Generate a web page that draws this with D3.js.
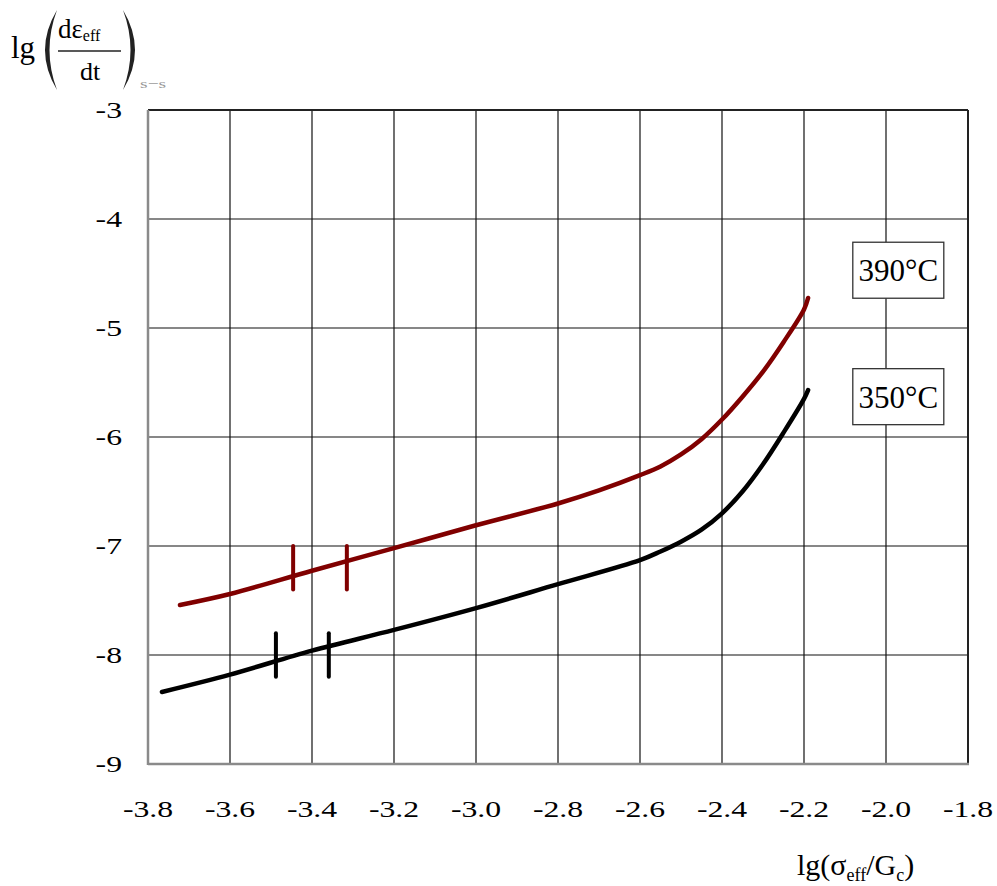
<!DOCTYPE html>
<html>
<head>
<meta charset="utf-8">
<script src="https://cdn.jsdelivr.net/npm/d3@7"></script>
<style>
  body { margin: 0; background: #fff; }
  text { font-family: "Liberation Serif", "Times New Roman", serif; fill: #000; }
</style>
</head>
<body>
<div id="chart"></div>
<script>
// data
var xTicks = [-3.8, -3.6, -3.4, -3.2, -3.0, -2.8, -2.6, -2.4, -2.2, -2.0, -1.8];
var xTickLabels = ["-3.8", "-3.6", "-3.4", "-3.2", "-3.0", "-2.8", "-2.6", "-2.4", "-2.2", "-2.0", "-1.8"];
var yTicks = [-9, -8, -7, -6, -5, -4, -3];
var yTickLabels = ["-9", "-8", "-7", "-6", "-5", "-4", "-3"];

var seriesNames = ["390°C", "350°C"];

var x390 = [-3.722, -3.6, -3.4, -3.2, -3.0, -2.8, -2.7, -2.6, -2.55, -2.5, -2.45, -2.4, -2.35, -2.3, -2.25, -2.2, -2.19];
var y390 = [-7.541, -7.44, -7.227, -7.02, -6.81, -6.61, -6.49, -6.35, -6.27, -6.16, -6.02, -5.84, -5.63, -5.40, -5.13, -4.83, -4.725];

var x350 = [-3.766, -3.6, -3.4, -3.2, -3.0, -2.8, -2.6, -2.55, -2.5, -2.45, -2.4, -2.35, -2.3, -2.25, -2.2, -2.19];
var y350 = [-8.339, -8.18, -7.96, -7.77, -7.57, -7.35, -7.13, -7.05, -6.96, -6.85, -6.70, -6.50, -6.25, -5.96, -5.65, -5.569];

// short vertical marks on the curves
var marks390 = [-3.446, -3.315];
var marks390Range = [-7.0, -7.4];
var marks350 = [-3.488, -3.359];
var marks350Range = [-7.8, -8.2];

var svgWidth = 997;
var svgHeight = 886;

var margin = {
    top: 110,
    right: 29,
    bottom: 122,
    left: 148
};

var width = svgWidth - margin.left - margin.right;
var height = svgHeight - margin.top - margin.bottom;

var svg = d3.select("#chart")
    .append("svg")
    .attr("width", svgWidth)
    .attr("height", svgHeight);

var chartGroup = svg.append("g")
    .attr("transform", `translate(${margin.left}, ${margin.top})`);

var xScale = d3.scaleLinear()
    .domain([-3.8, -1.8])
    .range([0, width]);

var yScale = d3.scaleLinear()
    .domain([-9, -3])
    .range([height, 0]);

// grid
chartGroup.selectAll(".vgrid")
    .data(xTicks)
    .enter()
    .append("line")
    .attr("x1", d => xScale(d))
    .attr("x2", d => xScale(d))
    .attr("y1", 0)
    .attr("y2", height)
    .attr("stroke", "#111")
    .attr("stroke-width", 1.2);

chartGroup.selectAll(".hgrid")
    .data(yTicks)
    .enter()
    .append("line")
    .attr("x1", 0)
    .attr("x2", width)
    .attr("y1", d => yScale(d))
    .attr("y2", d => yScale(d))
    .attr("stroke", "#111")
    .attr("stroke-width", 1.2);

// frame: top/right dark, left/bottom grey
chartGroup.append("line")
    .attr("x1", 0).attr("x2", width).attr("y1", 0).attr("y2", 0)
    .attr("stroke", "#222").attr("stroke-width", 2);
chartGroup.append("line")
    .attr("x1", width).attr("x2", width).attr("y1", 0).attr("y2", height)
    .attr("stroke", "#222").attr("stroke-width", 2);
chartGroup.append("line")
    .attr("x1", 0).attr("x2", 0).attr("y1", 0).attr("y2", height + 1)
    .attr("stroke", "#8a8a8a").attr("stroke-width", 2.5);
chartGroup.append("line")
    .attr("x1", 0).attr("x2", width + 1).attr("y1", height).attr("y2", height)
    .attr("stroke", "#8a8a8a").attr("stroke-width", 2.5);

// tick labels (stretched wide like the original)
chartGroup.selectAll(".xlab")
    .data(xTicks)
    .enter()
    .append("text")
    .attr("transform", d => `translate(${xScale(d)}, ${height + 53}) scale(1.38, 1)`)
    .attr("text-anchor", "middle")
    .attr("font-size", 23)
    .text((d, i) => xTickLabels[i]);

chartGroup.selectAll(".ylab")
    .data(yTicks)
    .enter()
    .append("text")
    .attr("transform", d => `translate(-26, ${yScale(d) + 8}) scale(1.38, 1)`)
    .attr("text-anchor", "end")
    .attr("font-size", 23)
    .text((d, i) => yTickLabels[i]);

// curves
var line = d3.line()
    .x(d => xScale(d[0]))
    .y(d => yScale(d[1]))
    .curve(d3.curveCatmullRom.alpha(0.5));

var series = [
    { name: seriesNames[0], xs: x390, ys: y390, marks: marks390, range: marks390Range, color: "#800000" },
    { name: seriesNames[1], xs: x350, ys: y350, marks: marks350, range: marks350Range, color: "#000000" }
];

series.forEach(function(s) {
    chartGroup.append("path")
        .datum(s.xs.map((v, i) => [v, s.ys[i]]))
        .attr("d", line)
        .attr("fill", "none")
        .attr("stroke", s.color)
        .attr("stroke-width", 4.5)
        .attr("stroke-linecap", "round")
        .attr("stroke-linejoin", "round");

    chartGroup.selectAll(null)
        .data(s.marks)
        .enter()
        .append("line")
        .attr("x1", d => xScale(d))
        .attr("x2", d => xScale(d))
        .attr("y1", yScale(s.range[0]))
        .attr("y2", yScale(s.range[1]))
        .attr("stroke", s.color)
        .attr("stroke-width", 4)
        .attr("stroke-linecap", "round");
});

// boxed labels at the right
var labelX = -1.97;
var labelY = [-4.47, -5.63];
series.forEach(function(s, i) {
    var cx = xScale(labelX);
    var cy = yScale(labelY[i]);
    chartGroup.append("rect")
        .attr("x", cx - 45.5)
        .attr("y", cy - 28)
        .attr("width", 91)
        .attr("height", 56)
        .attr("fill", "#fff")
        .attr("stroke", "#333")
        .attr("stroke-width", 1.3);
    chartGroup.append("text")
        .attr("x", cx)
        .attr("y", cy + 11)
        .attr("text-anchor", "middle")
        .attr("font-size", 31)
        .text(s.name);
});

// y axis title: lg( dε_eff / dt )_s-s
var yTitle = svg.append("g");
yTitle.append("text")
    .attr("x", 11)
    .attr("y", 58)
    .attr("font-size", 31)
    .text("lg");
yTitle.append("path")
    .attr("d", "M57,10 Q33,50 57,90 Q42,50 57,10Z")
    .attr("fill", "#222");
yTitle.append("path")
    .attr("d", "M123,10 Q147,50 123,90 Q138,50 123,10Z")
    .attr("fill", "#222");
var num = yTitle.append("text")
    .attr("x", 58)
    .attr("y", 38)
    .attr("font-size", 27);
num.append("tspan").text("dε");
num.append("tspan").attr("font-size", 16).attr("dy", 3).text("eff");
yTitle.append("line")
    .attr("x1", 58).attr("x2", 121).attr("y1", 51).attr("y2", 51)
    .attr("stroke", "#222").attr("stroke-width", 1.5);
yTitle.append("text")
    .attr("x", 90)
    .attr("y", 80)
    .attr("text-anchor", "middle")
    .attr("font-size", 26)
    .text("dt");
yTitle.append("text")
    .attr("transform", "translate(140, 88) scale(1.5, 1)")
    .attr("font-size", 13)
    .style("fill", "#999")
    .text("s−s");

// x axis title: lg(σ_eff/G_c)
var xTitle = svg.append("text")
    .attr("x", 797)
    .attr("y", 875)
    .attr("font-size", 30);
xTitle.append("tspan").text("lg(σ");
xTitle.append("tspan").attr("font-size", 18).attr("dy", 6).text("eff");
xTitle.append("tspan").attr("dy", -6).text("/G");
xTitle.append("tspan").attr("font-size", 18).attr("dy", 6).text("c");
xTitle.append("tspan").attr("dy", -6).text(")");
</script>
</body>
</html>
